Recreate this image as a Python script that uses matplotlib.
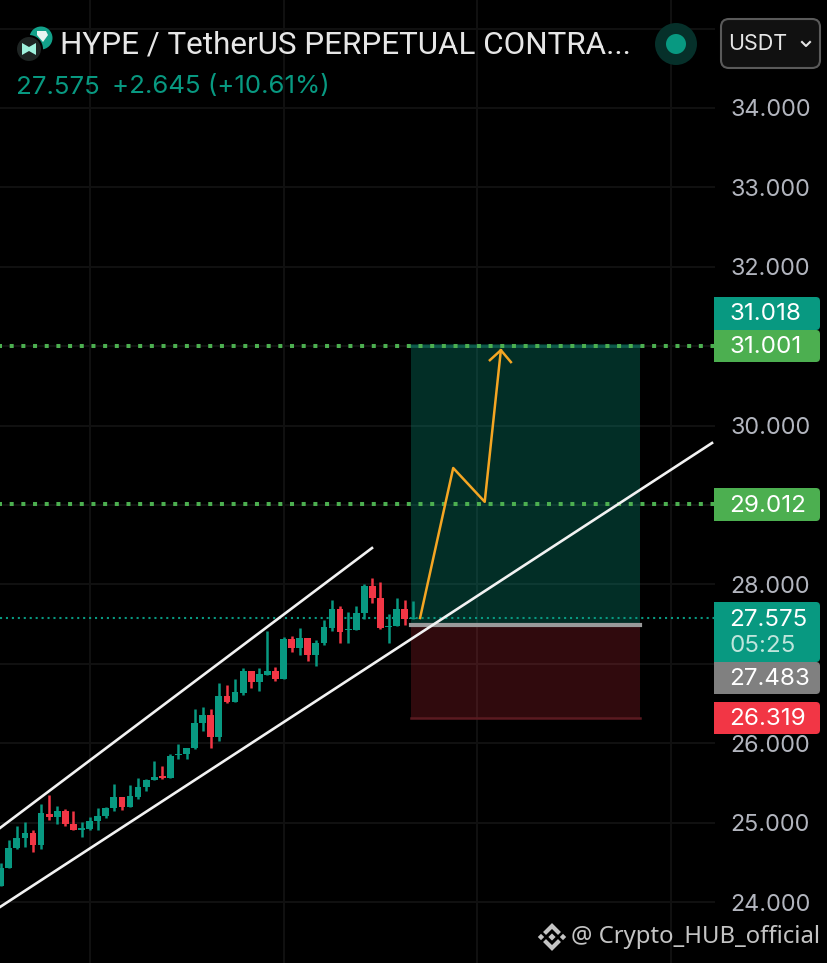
import matplotlib

matplotlib.use("Agg")
import matplotlib.pyplot as plt
import numpy as np
from matplotlib.patches import Circle, FancyBboxPatch, Polygon, Rectangle

plt.rcParams["font.family"] = ["Inter", "DejaVu Sans"]

BG = "#000000"
UP = "#089981"
DOWN = "#F23645"
GREEN = "#4CAF50"
GRID = "#101010"

# candles
opens = [24.201, 24.432, 24.680, 24.806, 24.865, 24.718, 25.108, 25.075, 25.150, 24.986,
         24.902, 24.919, 25.024, 25.083, 25.188, 25.318, 25.196, 25.327, 25.444, 25.532,
         25.583, 25.566, 25.851, 25.864, 25.935, 26.254, 26.351, 26.082, 26.594, 26.523,
         26.636, 26.909, 26.766, 26.854, 26.909, 26.812, 27.308, 27.194, 27.320, 27.111,
         27.262, 27.451, 27.686, 27.425, 27.430, 27.635, 27.975, 27.833, 27.459, 27.480,
         27.686, 27.564]
closes = [24.432, 24.684, 24.806, 24.865, 24.718, 25.117, 25.075, 25.150, 24.978, 24.902,
          24.932, 25.024, 25.087, 25.188, 25.318, 25.201, 25.335, 25.444, 25.536, 25.574,
          25.562, 25.843, 25.868, 25.939, 26.254, 26.355, 26.082, 26.594, 26.523, 26.640,
          26.909, 26.766, 26.871, 26.909, 26.812, 27.308, 27.199, 27.320, 27.111, 27.262,
          27.459, 27.686, 27.404, 27.438, 27.635, 27.975, 27.828, 27.451, 27.480, 27.686,
          27.568, 27.577]
highs = [24.487, 24.781, 24.961, 25.003, 24.903, 25.230, 25.343, 25.213, 25.167, 25.142,
         25.003, 25.075, 25.180, 25.192, 25.490, 25.318, 25.469, 25.557, 25.549, 25.780,
         25.713, 25.860, 25.986, 25.939, 26.426, 26.452, 26.430, 26.762, 26.729, 26.804,
         26.947, 26.909, 26.943, 27.413, 26.964, 27.337, 27.346, 27.446, 27.320, 27.295,
         27.551, 27.799, 27.732, 27.648, 27.728, 28.001, 28.080, 28.026, 27.623, 27.833,
         27.803, 27.786]
lows = [24.201, 24.432, 24.667, 24.688, 24.630, 24.663, 25.033, 24.982, 24.957, 24.902,
        24.819, 24.902, 24.907, 25.054, 25.150, 25.159, 25.192, 25.297, 25.394, 25.532,
        25.553, 25.566, 25.797, 25.797, 25.927, 26.154, 25.935, 26.032, 26.510, 26.523,
        26.607, 26.695, 26.653, 26.854, 26.783, 26.812, 27.148, 27.111, 27.035, 26.968,
        27.236, 27.413, 27.262, 27.262, 27.430, 27.560, 27.770, 27.442, 27.257, 27.480,
        27.493, 27.564]

price_ticks = [24, 25, 26, 27, 28, 29, 30, 31, 32, 33, 34, 35]
hidden_ticks = [27, 29, 31, 35]
time_grid = [11, 35, 59, 83]

last_price = 27.575
target_1 = 29.012
target_2 = 31.001
position_top = 31.03
entry = 27.483
stop = 26.319

upper_channel_x = [-0.09, 45.95]
upper_channel_y = [24.932, 28.458]
lower_channel_x = [-0.09, 88.03]
lower_channel_y = [23.937, 29.781]
path_x = [51.9, 56.0, 59.9, 61.9]
path_y = [27.577, 29.466, 29.04, 30.95]

W, H = 828, 963
fig = plt.figure(figsize=(W / 100, H / 100), dpi=100, facecolor=BG)

# chart area stops at the price scale
ax = fig.add_axes([0, 0, 715 / W, 1], facecolor=BG)
ax.set_xlim(-0.087, 88.4)
ax.set_ylim(23.232, 35.36)
for s in ax.spines.values():
    s.set_visible(False)
ax.set_xticks(time_grid)
ax.tick_params(axis="x", length=0, labelbottom=False)
ax.yaxis.tick_right()
ax.set_yticks(price_ticks)
ax.set_yticklabels(["" if t in hidden_ticks else f"{t:.3f}" for t in price_ticks])
ax.tick_params(axis="y", length=0, pad=11, labelsize=16.8, labelcolor="#B2B5BE")
ax.grid(True, color=GRID, lw=1.5)
ax.set_axisbelow(True)

# position box
ax.add_patch(Rectangle((50.78, entry), 28.34, position_top - entry, fc=UP, alpha=0.3, ec="none", zorder=1))
ax.add_patch(Rectangle((50.78, stop), 28.34, entry - stop, fc=DOWN, alpha=0.2, ec="none", zorder=1))
ax.plot([50.78, 79.12], [stop, stop], color="#5a1a20", lw=1.8, zorder=1.5)
ax.plot([50.78, 79.12], [position_top - 0.03, position_top - 0.03], color="#0E5A4C", lw=2, zorder=1.5)

# candles
idx = np.arange(len(opens))
o, c = np.array(opens), np.array(closes)
colors = [UP if b >= a else DOWN for a, b in zip(opens, closes)]
ax.vlines(idx, lows, highs, colors=colors, lw=1.8, zorder=2)
ax.bar(idx, np.abs(c - o), bottom=np.minimum(o, c), width=0.84, color=colors, zorder=2.1)

# levels
ax.axhline(last_price, color=UP, lw=1.5, ls=(0, (1, 1.85)), zorder=1.8)
for lvl in (target_1, target_2):
    ax.axhline(lvl, color=GREEN, lw=2.9, ls=(0.5, (1, 1.9)), zorder=2.5)
ax.plot([50.78, 79.12], [entry, entry], color="#9a9a9a", lw=3, zorder=3)

# drawings
ax.plot(upper_channel_x, upper_channel_y, color="#F2F2F2", lw=1.9, zorder=3)
ax.plot(lower_channel_x, lower_channel_y, color="#F2F2F2", lw=1.9, zorder=3)
ax.plot(path_x, path_y, color="#F5A623", lw=1.8, zorder=4)
ax.plot([path_x[-1] - 1.36, path_x[-1], path_x[-1] + 1.24],
        [path_y[-1] - 0.126, path_y[-1], path_y[-1] - 0.15], color="#F5A623", lw=1.8, zorder=4)

# overlay in pixels for the app chrome
ui = fig.add_axes([0, 0, 1, 1], facecolor="none")
ui.set_xlim(0, W)
ui.set_ylim(H, 0)
ui.axis("off")


def badge(y0, y1, color, label, sub=None, x0=714, x1=820):
    # rounded on the right only
    ui.add_patch(FancyBboxPatch((x0 + 4, y0 + 3), x1 - x0 - 7, y1 - y0 - 6,
                                boxstyle="round,pad=3,rounding_size=4", fc=color, ec="none"))
    ui.add_patch(Rectangle((x0, y0), 12, y1 - y0, fc=color, ec="none"))
    if sub is None:
        ui.text(729.5, (y0 + y1) / 2 + 1, label, color="white", fontsize=17.4, ha="left", va="center")
    else:
        ui.text(729.5, y0 + 18, label, color="white", fontsize=17.4, ha="left", va="center")
        ui.text(729.5, y0 + 44, sub, color="#BFE5DC", fontsize=17.4, ha="left", va="center")


badge(297, 330, UP, "31.018")
badge(330, 362, GREEN, "31.001")
badge(488, 521, GREEN, "29.012")
badge(602, 662, UP, "27.575", "05:25")
badge(662, 694, "#808080", "27.483")
badge(702, 734, DOWN, "26.319")

# header
ui.add_patch(Circle((41, 38), 11.5, fc="#12A18A", ec="none"))
ui.add_patch(Polygon([[37, 31], [46, 31], [48, 35], [43, 42], [37, 35]], fc="#E8F5F2", ec="none"))
ui.add_patch(Circle((29, 49), 14, fc=BG, ec="none"))
ui.add_patch(Circle((29, 49), 12, fc="#1E2423", ec="none"))
ui.add_patch(Polygon([[22, 43], [29, 47], [36, 43], [36, 55], [29, 51], [22, 55]], fc="#9FF0DC", ec="none"))
ui.text(60, 45, "HYPE / TetherUS PERPETUAL CONTRA...", color="#E6E6E6", fontsize=22.6, ha="left", va="center",
        family="Roboto")
ui.text(16, 87, "27.575", color=UP, fontsize=18.6, ha="left", va="center")
ui.text(112, 87, "+2.645 (+10.61%)", color=UP, fontsize=18.6, ha="left", va="center")
ui.add_patch(Circle((676, 44), 21, fc="#06302A", ec="none"))
ui.add_patch(Circle((676, 44), 10, fc=UP, ec="none"))
ui.add_patch(FancyBboxPatch((725, 23), 91, 41, boxstyle="round,pad=4,rounding_size=8",
                            fc="#111111", ec="#5A5A5A", lw=1.5))
ui.text(758, 44, "USDT", color="#E6E6E6", fontsize=15.5, ha="center", va="center")
ui.plot([802, 806, 810], [42, 46, 42], color="#E6E6E6", lw=1.5)

# watermark
LOGO = "#C4C4C4"
for dx, r in [(-11, 3.2), (0, 3.6), (11, 3.2)]:
    ui.add_patch(Polygon([[552 + dx, 937 - r], [552 + dx + r, 937],
                          [552 + dx, 937 + r], [552 + dx - r, 937]], fc=LOGO, ec="none"))
ui.plot([546, 552, 558], [932, 926, 932], color=LOGO, lw=3, solid_joinstyle="miter")
ui.plot([546, 552, 558], [942, 948, 942], color=LOGO, lw=3, solid_joinstyle="miter")
ui.text(820, 937, "@ Crypto_HUB_official", color=LOGO, fontsize=17.2, ha="right", va="center",
        family="Noto Sans")

fig.savefig("out.png", dpi=100, facecolor=BG)
